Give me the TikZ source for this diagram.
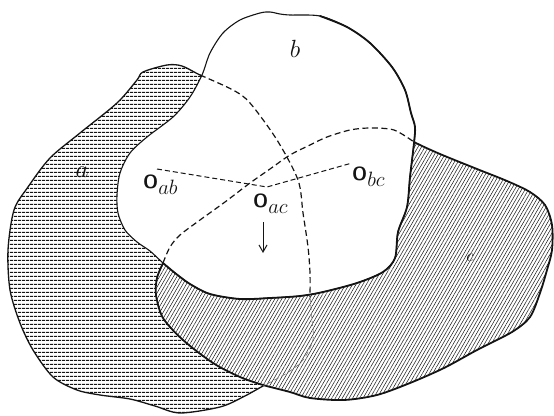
\documentclass[tikz,border=0pt]{standalone}
\usepackage{amsmath}
\usepackage{tikz}
\usetikzlibrary{arrows.meta,patterns.meta}
\definecolor{ink}{HTML}{141414}
\definecolor{inksoft}{HTML}{707070}
\newcommand{\olab}[1]{\textsf{\bfseries O}\raisebox{-6.5pt}{\fontsize{20}{24}\selectfont$#1$}}

\begin{document}
\begin{tikzpicture}[
  x=1pt,y=-1pt,
  font=\fontsize{23}{28}\selectfont,
  outline/.style={draw=ink,line width=1.3pt,line join=round},
  heavy/.style={draw=ink,line width=1.8pt,line join=round,line cap=round},
  hatcha/.style={pattern={Lines[angle=0,distance=4pt,line width=1pt]},pattern color=ink},
  hatchc/.style={pattern={Lines[angle=60,distance=3pt,line width=0.5pt]},pattern color=ink},
  hidden/.style={draw=ink,line width=1.2pt,dash pattern=on 6pt off 3.5pt},
  faint/.style={draw=inksoft,line width=0.6pt,dash pattern=on 5pt off 3pt},
  centreline/.style={draw=ink,line width=1pt,dash pattern=on 5pt off 3pt},
  lbl/.style={inner sep=0pt,text=ink},
  pt/.style={lbl,anchor=base west,font=\fontsize{19}{23}\selectfont},
  arrow/.style={-{Straight Barb[length=7pt,width=8pt]},draw=ink,line width=1pt},
]
\useasboundingbox (0,0) rectangle (554,415);

% a (lowest), c over it, b on top
\path[hatcha,outline,preaction={fill=white}] plot[smooth cycle] coordinates {
  (143,72) (167,65) (182,66) (200,75) (233,90) (250,103) (277,140) (298,180)
  (303,213) (308,247) (310,273) (310,297) (312,320) (313,340) (303,360) (287,373)
  (263,386) (243,397) (220,407) (180,413) (155,406) (130,399) (100,395) (77,390)
  (53,377) (33,350) (20,323) (10,290) (8,250) (14,210) (28,187) (50,158) (80,133)
  (117,103) (137,80)};

\path[hatchc,heavy,preaction={fill=white}] plot[smooth cycle] coordinates {
  (163,263) (170,247) (180,235) (200,220) (225,202) (250,183) (270,169) (290,155)
  (310,145) (327,137) (350,130) (370,128) (394,130) (414,142) (440,154) (477,169)
  (507,181) (530,192) (545,205) (552,225) (552,250) (547,270) (540,293) (530,317)
  (512,332) (477,350) (444,368) (410,383) (377,395) (344,400) (310,398) (290,392)
  (263,385) (240,377) (213,363) (183,340) (163,318) (156,295) (157,278)};

\path[outline,line width=1.1pt,fill=white] plot[smooth cycle] coordinates {
  (202,75) (210,53) (223,33) (240,20) (260,13) (270,12) (280,14) (290,15) (320,16)
  (347,27) (370,43) (392,67) (405,90) (411,113) (415,127) (414,143) (410,177)
  (407,207) (398,232) (395,258) (383,272) (357,283) (323,292) (300,296) (270,298)
  (240,299) (210,294) (190,284) (175,273) (163,263) (150,251) (137,242) (125,230)
  (118,213) (117,195) (120,173) (130,153) (147,137) (173,117) (190,97)};
\draw[heavy] plot[smooth] coordinates {
  (320,16) (347,27) (370,43) (392,67) (405,90) (411,113) (415,127) (414,143)
  (410,177) (407,207) (398,232) (395,258) (383,272) (357,283) (323,292) (300,296)
  (270,298) (240,299) (210,294) (190,284) (175,273) (163,263)};

% hidden edges
\draw[hidden] plot[smooth] coordinates {
  (200,75) (233,90) (250,103) (277,140) (298,180) (303,213) (308,247) (310,273) (310,297)};
\draw[faint] plot[smooth] coordinates {
  (310,297) (312,320) (313,340) (303,360) (287,373) (263,386)};
\draw[hidden] plot[smooth] coordinates {
  (163,263) (170,247) (180,235) (200,220) (225,202) (250,183) (270,169) (290,155)
  (310,145) (327,137) (350,130) (370,128) (394,130) (414,142)};

\node[lbl] (la) at (82,172) {$a$};
\node[lbl] (lb) at (295,49) {$b$};
\node[lbl,font=\fontsize{18}{22}\selectfont] (lc) at (470,258) {$c$};

\coordinate (pab) at (157,169);
\coordinate (pac) at (267,187);
\coordinate (pbc) at (352,163);
\node[pt] (oab) at (143,188) {\olab{ab}};
\node[pt] (oac) at (253,207) {\olab{ac}};
\node[pt] (obc) at (352,180) {\olab{bc}};
\draw[centreline] (pab) -- (pac) -- (pbc);

\coordinate (atail) at (263,222);
\coordinate (ahead) at (263,253);
\draw[arrow] (atail) -- (ahead);
\end{tikzpicture}
\end{document}
